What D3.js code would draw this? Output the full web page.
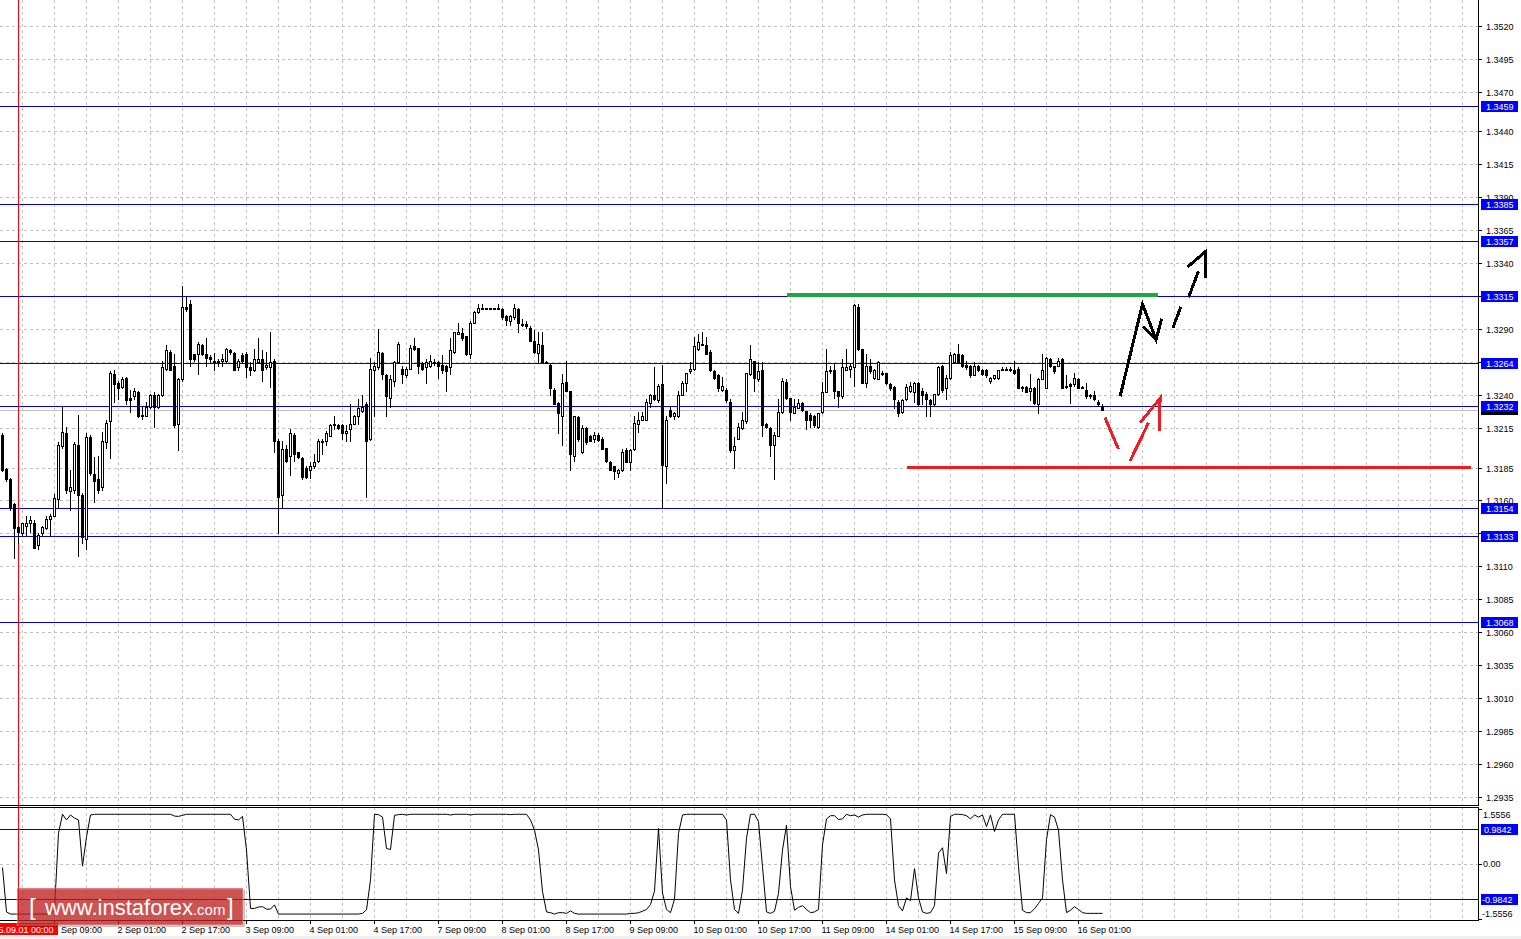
<!DOCTYPE html>
<html>
<head>
<meta charset="utf-8">
<script src="https://cdn.jsdelivr.net/npm/d3@7"></script>
<style>
html, body { margin: 0; padding: 0; background: #fff; overflow: hidden; }
svg { display: block; font-family: "Liberation Sans", Arial, sans-serif; }
</style>
</head>
<body>
<script>
// H1 candles [open, high, low, close], from 31 Aug 20:00 to 16 Sep 07:00
const ohlc = [
[1.3210,1.3211,1.3182,1.3183],[1.3184,1.3185,1.3175,1.3176],[1.3176,1.3177,1.3153,1.3155],[1.3157,1.3158,1.3116,1.3139],
[1.3140,1.3141,1.3128,1.3136],[1.3135,1.3143,1.3134,1.3143],[1.3141,1.3148,1.3134,1.3143],[1.3143,1.3148,1.3136,1.3145],
[1.3143,1.3145,1.3124,1.3124],[1.3126,1.3135,1.3123,1.3134],[1.3135,1.3141,1.3133,1.3140],[1.3139,1.3148,1.3138,1.3146],
[1.3146,1.3150,1.3133,1.3148],[1.3148,1.3165,1.3148,1.3162],[1.3161,1.3204,1.3155,1.3202],[1.3201,1.3231,1.3200,1.3212],
[1.3211,1.3216,1.3166,1.3168],[1.3167,1.3183,1.3153,1.3170],[1.3168,1.3204,1.3166,1.3203],[1.3202,1.3225,1.3118,1.3164],
[1.3164,1.3166,1.3128,1.3132],[1.3131,1.3211,1.3123,1.3208],[1.3208,1.3210,1.3179,1.3181],[1.3180,1.3193,1.3159,1.3175],
[1.3176,1.3194,1.3166,1.3168],[1.3170,1.3212,1.3168,1.3205],[1.3204,1.3221,1.3200,1.3219],[1.3220,1.3258,1.3192,1.3257],
[1.3256,1.3259,1.3235,1.3248],[1.3249,1.3251,1.3237,1.3245],[1.3246,1.3254,1.3245,1.3252],[1.3253,1.3254,1.3233,1.3236],
[1.3238,1.3244,1.3227,1.3236],[1.3239,1.3245,1.3237,1.3243],[1.3242,1.3243,1.3223,1.3224],[1.3225,1.3231,1.3222,1.3224],
[1.3224,1.3235,1.3224,1.3231],[1.3231,1.3241,1.3230,1.3240],[1.3240,1.3242,1.3216,1.3231],[1.3231,1.3241,1.3230,1.3240],
[1.3240,1.3266,1.3239,1.3261],[1.3260,1.3278,1.3259,1.3274],[1.3273,1.3274,1.3259,1.3259],[1.3262,1.3271,1.3216,1.3217],
[1.3218,1.3253,1.3198,1.3252],[1.3252,1.3323,1.3251,1.3307],[1.3307,1.3314,1.3304,1.3305],[1.3309,1.3312,1.3262,1.3267],
[1.3271,1.3271,1.3266,1.3267],[1.3271,1.3280,1.3256,1.3279],[1.3278,1.3279,1.3270,1.3271],[1.3271,1.3283,1.3262,1.3268],
[1.3269,1.3270,1.3265,1.3267],[1.3266,1.3272,1.3259,1.3265],[1.3265,1.3267,1.3262,1.3266],[1.3266,1.3271,1.3262,1.3267],
[1.3266,1.3276,1.3265,1.3275],[1.3274,1.3275,1.3271,1.3273],[1.3272,1.3273,1.3259,1.3259],[1.3261,1.3267,1.3259,1.3266],
[1.3270,1.3272,1.3264,1.3266],[1.3271,1.3273,1.3254,1.3261],[1.3261,1.3265,1.3255,1.3259],[1.3259,1.3275,1.3258,1.3267],
[1.3265,1.3283,1.3264,1.3267],[1.3267,1.3274,1.3251,1.3259],[1.3261,1.3273,1.3260,1.3263],[1.3261,1.3288,1.3246,1.3265],
[1.3266,1.3267,1.3197,1.3205],[1.3205,1.3207,1.3135,1.3163],[1.3164,1.3205,1.3154,1.3199],[1.3199,1.3202,1.3189,1.3190],
[1.3194,1.3214,1.3179,1.3211],[1.3210,1.3211,1.3190,1.3195],[1.3197,1.3197,1.3192,1.3193],[1.3192,1.3193,1.3176,1.3178],
[1.3185,1.3186,1.3177,1.3178],[1.3183,1.3189,1.3177,1.3186],[1.3186,1.3195,1.3185,1.3189],[1.3190,1.3207,1.3189,1.3205],
[1.3204,1.3207,1.3195,1.3205],[1.3205,1.3213,1.3202,1.3211],[1.3209,1.3218,1.3209,1.3217],[1.3217,1.3224,1.3214,1.3218],
[1.3217,1.3218,1.3214,1.3215],[1.3217,1.3218,1.3207,1.3211],[1.3211,1.3217,1.3205,1.3213],[1.3214,1.3233,1.3205,1.3218],
[1.3218,1.3225,1.3218,1.3224],[1.3224,1.3237,1.3218,1.3230],[1.3228,1.3240,1.3227,1.3231],[1.3233,1.3235,1.3163,1.3205],
[1.3207,1.3268,1.3206,1.3260],[1.3259,1.3265,1.3224,1.3262],[1.3261,1.3290,1.3260,1.3273],[1.3272,1.3273,1.3252,1.3256],
[1.3255,1.3256,1.3224,1.3239],[1.3238,1.3255,1.3231,1.3252],[1.3251,1.3266,1.3247,1.3265],[1.3265,1.3280,1.3264,1.3279],
[1.3260,1.3262,1.3249,1.3256],[1.3255,1.3261,1.3254,1.3260],[1.3260,1.3278,1.3260,1.3276],[1.3277,1.3283,1.3274,1.3275],
[1.3276,1.3276,1.3257,1.3262],[1.3264,1.3265,1.3259,1.3260],[1.3261,1.3267,1.3249,1.3265],[1.3262,1.3270,1.3261,1.3266],
[1.3264,1.3267,1.3263,1.3265],[1.3265,1.3266,1.3253,1.3262],[1.3263,1.3270,1.3257,1.3259],[1.3262,1.3263,1.3243,1.3258],
[1.3261,1.3283,1.3256,1.3274],[1.3273,1.3288,1.3272,1.3288],[1.3286,1.3295,1.3286,1.3288],[1.3287,1.3291,1.3282,1.3283],
[1.3285,1.3285,1.3270,1.3271],[1.3271,1.3296,1.3268,1.3295],[1.3295,1.3304,1.3295,1.3303],[1.3303,1.3309,1.3302,1.3306],
[1.3306,1.3309,1.3305,1.3305],[1.3306,1.3306,1.3305,1.3305],[1.3306,1.3306,1.3305,1.3305],[1.3306,1.3306,1.3305,1.3305],
[1.3306,1.3309,1.3305,1.3305],[1.3305,1.3306,1.3298,1.3299],[1.3300,1.3301,1.3293,1.3297],[1.3296,1.3301,1.3293,1.3300],
[1.3299,1.3309,1.3298,1.3306],[1.3305,1.3306,1.3288,1.3295],[1.3294,1.3298,1.3292,1.3293],[1.3294,1.3296,1.3291,1.3292],
[1.3291,1.3292,1.3281,1.3281],[1.3281,1.3289,1.3272,1.3273],[1.3272,1.3288,1.3265,1.3279],[1.3278,1.3288,1.3264,1.3265],
[1.3265,1.3266,1.3264,1.3264],[1.3263,1.3264,1.3240,1.3245],[1.3244,1.3245,1.3233,1.3233],[1.3234,1.3235,1.3211,1.3226],
[1.3224,1.3256,1.3202,1.3249],[1.3250,1.3266,1.3243,1.3243],[1.3243,1.3243,1.3183,1.3195],[1.3194,1.3224,1.3190,1.3224],
[1.3223,1.3224,1.3205,1.3207],[1.3197,1.3217,1.3196,1.3215],[1.3215,1.3216,1.3203,1.3204],[1.3209,1.3210,1.3205,1.3205],
[1.3207,1.3212,1.3204,1.3210],[1.3210,1.3211,1.3205,1.3206],[1.3207,1.3208,1.3199,1.3199],[1.3200,1.3200,1.3189,1.3190],
[1.3189,1.3190,1.3183,1.3183],[1.3186,1.3186,1.3176,1.3182],[1.3181,1.3184,1.3178,1.3183],[1.3183,1.3199,1.3182,1.3197],
[1.3198,1.3200,1.3189,1.3189],[1.3189,1.3199,1.3183,1.3198],[1.3199,1.3224,1.3198,1.3219],[1.3218,1.3227,1.3212,1.3221],
[1.3221,1.3227,1.3221,1.3224],[1.3221,1.3237,1.3221,1.3235],[1.3234,1.3241,1.3231,1.3240],[1.3240,1.3261,1.3236,1.3237],
[1.3236,1.3248,1.3235,1.3247],[1.3248,1.3263,1.3154,1.3187],[1.3186,1.3224,1.3173,1.3221],[1.3229,1.3232,1.3223,1.3224],
[1.3224,1.3227,1.3222,1.3226],[1.3224,1.3243,1.3223,1.3240],[1.3240,1.3251,1.3240,1.3249],[1.3249,1.3257,1.3243,1.3257],
[1.3258,1.3265,1.3257,1.3260],[1.3260,1.3284,1.3259,1.3277],[1.3275,1.3286,1.3274,1.3280],[1.3279,1.3288,1.3278,1.3278],
[1.3278,1.3284,1.3271,1.3271],[1.3273,1.3274,1.3258,1.3259],[1.3258,1.3259,1.3252,1.3253],[1.3255,1.3256,1.3243,1.3245],
[1.3244,1.3254,1.3243,1.3247],[1.3244,1.3245,1.3235,1.3236],[1.3235,1.3237,1.3197,1.3198],[1.3198,1.3208,1.3185,1.3201],
[1.3207,1.3219,1.3207,1.3216],[1.3215,1.3227,1.3214,1.3221],[1.3220,1.3257,1.3219,1.3257],[1.3256,1.3278,1.3255,1.3267],
[1.3266,1.3266,1.3243,1.3253],[1.3252,1.3265,1.3251,1.3258],[1.3259,1.3265,1.3209,1.3217],[1.3218,1.3219,1.3215,1.3216],
[1.3215,1.3216,1.3194,1.3202],[1.3202,1.3212,1.3176,1.3210],[1.3209,1.3237,1.3209,1.3227],[1.3227,1.3253,1.3226,1.3251],
[1.3250,1.3252,1.3237,1.3238],[1.3238,1.3238,1.3221,1.3227],[1.3226,1.3237,1.3226,1.3231],[1.3230,1.3237,1.3230,1.3234],
[1.3234,1.3235,1.3228,1.3229],[1.3228,1.3228,1.3214,1.3221],[1.3225,1.3226,1.3216,1.3221],[1.3224,1.3225,1.3216,1.3217],
[1.3216,1.3226,1.3215,1.3226],[1.3227,1.3250,1.3226,1.3242],[1.3242,1.3275,1.3242,1.3258],[1.3258,1.3262,1.3257,1.3259],
[1.3259,1.3264,1.3238,1.3243],[1.3243,1.3243,1.3231,1.3239],[1.3239,1.3267,1.3238,1.3261],[1.3259,1.3275,1.3259,1.3261],
[1.3260,1.3264,1.3254,1.3262],[1.3261,1.3309,1.3247,1.3308],[1.3307,1.3309,1.3274,1.3275],[1.3275,1.3275,1.3249,1.3249],
[1.3249,1.3271,1.3246,1.3262],[1.3262,1.3267,1.3257,1.3258],[1.3253,1.3260,1.3252,1.3259],[1.3252,1.3266,1.3252,1.3265],
[1.3256,1.3258,1.3255,1.3257],[1.3257,1.3257,1.3248,1.3249],[1.3248,1.3249,1.3244,1.3245],[1.3246,1.3247,1.3230,1.3237],
[1.3235,1.3236,1.3224,1.3226],[1.3227,1.3237,1.3226,1.3236],[1.3237,1.3248,1.3236,1.3246],[1.3243,1.3250,1.3242,1.3247],
[1.3242,1.3250,1.3235,1.3249],[1.3249,1.3250,1.3232,1.3233],[1.3243,1.3245,1.3233,1.3240],[1.3241,1.3242,1.3224,1.3237],
[1.3236,1.3237,1.3224,1.3233],[1.3233,1.3241,1.3232,1.3241],[1.3241,1.3262,1.3240,1.3261],[1.3262,1.3263,1.3242,1.3244],
[1.3245,1.3255,1.3237,1.3253],[1.3253,1.3273,1.3252,1.3270],[1.3265,1.3272,1.3264,1.3271],[1.3271,1.3279,1.3264,1.3264],
[1.3270,1.3271,1.3261,1.3262],[1.3263,1.3266,1.3260,1.3261],[1.3262,1.3263,1.3254,1.3255],[1.3255,1.3265,1.3255,1.3262],
[1.3262,1.3263,1.3258,1.3259],[1.3259,1.3260,1.3255,1.3256],[1.3259,1.3260,1.3254,1.3255],[1.3251,1.3254,1.3249,1.3253],
[1.3253,1.3255,1.3252,1.3255],[1.3253,1.3259,1.3252,1.3259],[1.3259,1.3261,1.3259,1.3260],[1.3259,1.3261,1.3259,1.3260],
[1.3260,1.3261,1.3258,1.3259],[1.3259,1.3266,1.3256,1.3257],[1.3260,1.3261,1.3245,1.3245],[1.3245,1.3247,1.3243,1.3246],
[1.3246,1.3247,1.3242,1.3242],[1.3243,1.3256,1.3236,1.3245],[1.3245,1.3246,1.3233,1.3234],[1.3233,1.3253,1.3226,1.3252],
[1.3252,1.3271,1.3252,1.3259],[1.3245,1.3269,1.3245,1.3268],[1.3267,1.3268,1.3261,1.3262],[1.3262,1.3262,1.3257,1.3258],
[1.3262,1.3268,1.3262,1.3266],[1.3267,1.3268,1.3245,1.3245],[1.3247,1.3255,1.3245,1.3246],[1.3248,1.3249,1.3234,1.3247],
[1.3248,1.3257,1.3247,1.3253],[1.3252,1.3253,1.3245,1.3245],[1.3246,1.3247,1.3245,1.3245],[1.3244,1.3249,1.3238,1.3239],
[1.3240,1.3241,1.3238,1.3239],[1.3240,1.3243,1.3236,1.3237],[1.3235,1.3236,1.3232,1.3233],[1.3232,1.3233,1.3229,1.3229]
];

// oscillator in the lower window, one value per candle
const osc = [
-0.10,-1.36,-1.42,-1.42,-1.42,-1.42,-1.42,-1.42,-1.42,-1.42,
-1.42,-1.42,-1.42,-1.30,0.87,1.41,1.25,1.39,1.30,1.25,
-0.06,0.77,1.39,1.41,1.41,1.41,1.41,1.41,1.41,1.41,
1.41,1.41,1.41,1.41,1.41,1.41,1.41,1.41,1.41,1.41,
1.41,1.41,1.41,1.36,1.35,1.38,1.41,1.41,1.41,1.41,
1.41,1.41,1.41,1.41,1.41,1.41,1.41,1.41,1.27,1.25,
1.35,0.40,-1.26,-1.26,-1.22,-1.21,-1.28,-1.28,-1.16,-1.42,
-1.42,-1.42,-1.42,-1.42,-1.42,-1.42,-1.42,-1.42,-1.42,-1.42,
-1.42,-1.42,-1.42,-1.42,-1.42,-1.42,-1.42,-1.42,-1.42,-1.42,
-1.40,-1.30,-0.45,1.41,1.40,1.33,0.44,0.41,1.38,1.40,
1.41,1.39,1.41,1.41,1.41,1.41,1.41,1.41,1.41,1.41,
1.41,1.41,1.39,1.41,1.41,1.41,1.41,1.39,1.41,1.41,
1.41,1.41,1.41,1.41,1.41,1.41,1.41,1.40,1.41,1.41,
1.41,1.41,1.25,0.96,0.40,-0.78,-1.36,-1.38,-1.42,-1.38,
-1.38,-1.40,-1.33,-1.40,-1.42,-1.42,-1.42,-1.42,-1.42,-1.42,
-1.42,-1.42,-1.42,-1.42,-1.42,-1.42,-1.42,-1.40,-1.40,-1.38,
-1.34,-1.29,-1.15,-0.77,1.01,-0.82,-1.29,-1.38,-1.00,0.87,
1.39,1.41,1.41,1.41,1.41,1.41,1.41,1.41,1.41,1.41,
1.41,1.25,-0.45,-1.29,-1.40,-0.74,0.73,1.41,1.41,1.20,
-0.08,-1.36,-1.40,-1.34,-0.83,0.40,1.10,-0.64,-1.31,-1.23,
-1.18,-1.29,-1.38,-1.36,-1.29,0.54,1.28,1.37,1.37,1.26,
1.28,1.41,1.37,1.39,1.33,1.39,1.41,1.41,1.41,1.41,
1.41,1.40,1.28,-0.45,-1.18,-1.33,-0.96,-1.04,-0.13,-0.96,
-1.36,-1.40,-1.38,-1.18,0.31,0.46,-0.27,1.35,1.41,1.41,
1.40,1.37,1.28,1.39,1.33,1.39,1.06,1.39,0.92,1.25,
1.41,1.41,1.41,1.41,-0.08,-1.31,-1.38,-1.38,-1.27,-1.12,
-0.96,0.69,1.40,1.33,0.96,-0.45,-1.38,-1.31,-1.21,-1.29,
-1.38,-1.40,-1.40,-1.40,-1.40,-1.40
];

const priceTicks = [1.3520,1.3495,1.3470,1.3440,1.3415,1.3390,1.3365,1.3340,1.3315,1.3290,1.3265,1.3240,
  1.3215,1.3185,1.3160,1.3135,1.3110,1.3085,1.3060,1.3035,1.3010,1.2985,1.2960,1.2935];
const levels = [1.3459, 1.3385, 1.3357, 1.3315, 1.3264, 1.3232, 1.3154, 1.3133, 1.3068];
const oscLevels = [0.9842, -0.9842];
const oscTicks = [1.5556, 0.00, -1.5556];
const timeLabels = ["1 Sep 09:00","2 Sep 01:00","2 Sep 17:00","3 Sep 09:00","4 Sep 01:00","4 Sep 17:00",
  "7 Sep 09:00","8 Sep 01:00","8 Sep 17:00","9 Sep 09:00","10 Sep 01:00","10 Sep 17:00","11 Sep 09:00",
  "14 Sep 01:00","14 Sep 17:00","15 Sep 09:00","16 Sep 01:00"];
const separatorLabel = "2015.09.01 00:00";

// hand drawn forecast, points as [bar, price]
const resistance = [[196, 1.3316], [288.8, 1.3316]];
const support = [[226, 1.3185], [367, 1.3185]];
const redPath1 = [[275.6, 1.3223], [279.0, 1.3199]];
const redPath2 = [[281.9, 1.3190], [286.5, 1.3219]];
const redHead = [[284.4, 1.3219], [289.4, 1.32375], [289.2, 1.3213]];
const blackPath = [[279.4, 1.3239], [285.0, 1.3309], [288.4, 1.3282], [289.8, 1.3298]];
const blackHeadStub = [[285.2, 1.3292], [288.4, 1.3282]];
const blackDash1 = [[292.6, 1.3291], [294.6, 1.3307]];
const blackDash2 = [[296.5, 1.3314], [299.0, 1.3334]];
const blackHead = [[296.2, 1.3337], [300.8, 1.3349], [300.8, 1.3329]];

const W = 1521, H = 939;
const plotRight = 1478, mainBottom = 805, subTop = 807, subBottom = 920;

const svg = d3.select("body").append("svg")
  .attr("width", W).attr("height", H)
  .attr("shape-rendering", "crispEdges");

const x = d3.scaleLinear().domain([0, ohlc.length - 1]).range([2.5, 2.5 + 4 * (ohlc.length - 1)]);
const y = d3.scaleLinear().domain([1.3520, 1.2935]).range([26, 797]);
const yo = d3.scaleLinear().domain([1.5556, -1.5556]).range([809.15, 918.85]);

const px = v => Math.round(v) + 0.5;

// bottom strip
svg.append("rect").attr("x", 0).attr("y", 936).attr("width", W).attr("height", 3).attr("fill", "#f0f0f0");

// grid
const grid = svg.append("g").attr("stroke", "#c0c0c0").attr("stroke-dasharray", "3,3");
priceTicks.forEach(p => {
  grid.append("line").attr("x1", 0).attr("x2", plotRight).attr("y1", px(y(p))).attr("y2", px(y(p)));
});
grid.append("line").attr("x1", 0).attr("x2", plotRight).attr("y1", px(yo(0))).attr("y2", px(yo(0)));
for (let k = 0; 5 + 8 * k <= 365; k++) {
  const gx = x(5 + 8 * k);
  grid.append("line").attr("x1", gx).attr("x2", gx).attr("y1", 0).attr("y2", mainBottom);
  grid.append("line").attr("x1", gx).attr("x2", gx).attr("y1", subTop).attr("y2", subBottom);
}

// bid line
const bid = ohlc[ohlc.length - 1][3];
svg.append("line").attr("x1", 0).attr("x2", plotRight).attr("y1", px(y(bid))).attr("y2", px(y(bid)))
  .attr("stroke", "#c0c0c0");

// level lines
svg.append("g").selectAll("line").data(levels).join("line")
  .attr("x1", 0).attr("x2", plotRight)
  .attr("y1", d => px(y(d))).attr("y2", d => px(y(d)))
  .attr("stroke", "#0000d0");
svg.append("g").selectAll("line").data(oscLevels).join("line")
  .attr("x1", 0).attr("x2", plotRight)
  .attr("y1", d => px(yo(d))).attr("y2", d => px(yo(d)))
  .attr("stroke", "#0000c0");

// period separator
svg.append("line").attr("x1", x(4)).attr("x2", x(4)).attr("y1", 0).attr("y2", subBottom).attr("stroke", "#ff0000");

// candles
const candle = svg.append("g").selectAll("g").data(ohlc).join("g");
candle.append("line")
  .attr("x1", (d, i) => x(i)).attr("x2", (d, i) => x(i))
  .attr("y1", d => Math.round(y(d[1])))
  .attr("y2", d => Math.round(y(d[2])) + 1)
  .attr("stroke", "#000");
candle.each(function (d, i) {
  const g = d3.select(this);
  const top = Math.round(y(Math.max(d[0], d[3])));
  const bot = Math.round(y(Math.min(d[0], d[3])));
  if (d[3] > d[0]) {
    g.append("rect").attr("x", x(i) - 1).attr("y", top + 0.5)
      .attr("width", 2).attr("height", Math.max(bot - top, 1))
      .attr("fill", "#fff").attr("stroke", "#000");
  } else {
    g.append("rect").attr("x", x(i) - 1.5).attr("y", top)
      .attr("width", 3).attr("height", Math.max(bot - top + 1, 1))
      .attr("fill", "#000");
  }
});

// oscillator
svg.append("path").datum(osc)
  .attr("d", d3.line().x((d, i) => x(i)).y(d => yo(d)))
  .attr("fill", "none").attr("stroke", "#000").attr("stroke-width", 1)
  .attr("shape-rendering", "auto");

// forecast drawing
const line = d3.line().x(d => x(d[0])).y(d => y(d[1]));
function stroke(pts, color, w) {
  svg.append("path").attr("d", line(pts)).attr("fill", "none")
    .attr("stroke", color).attr("stroke-width", w)
    .attr("stroke-linejoin", "miter").attr("stroke-linecap", "butt");
}
stroke(resistance, "#22a446", 4);
stroke(support, "#ee1c25", 3.5);
[redPath1, redPath2, redHead].forEach(p => stroke(p, "#ee1c25", 3));
[blackPath, blackHeadStub, blackDash1, blackDash2, blackHead].forEach(p => stroke(p, "#000", 3));

// pane borders
const border = svg.append("g").attr("stroke", "#000");
border.append("line").attr("x1", 0).attr("x2", plotRight + 1).attr("y1", mainBottom + 0.5).attr("y2", mainBottom + 0.5);
border.append("line").attr("x1", 0).attr("x2", plotRight + 1).attr("y1", subTop + 0.5).attr("y2", subTop + 0.5);
border.append("line").attr("x1", 0).attr("x2", plotRight + 1).attr("y1", subBottom + 0.5).attr("y2", subBottom + 0.5);
border.append("line").attr("x1", plotRight + 0.5).attr("x2", plotRight + 0.5).attr("y1", 0).attr("y2", mainBottom + 1);
border.append("line").attr("x1", plotRight + 0.5).attr("x2", plotRight + 0.5).attr("y1", subTop).attr("y2", subBottom + 1);

// price axis
const axis = svg.append("g").attr("font-size", 9).attr("fill", "#000");
priceTicks.forEach(p => {
  const ty = px(y(p));
  axis.append("line").attr("x1", plotRight).attr("x2", plotRight + 4).attr("y1", ty).attr("y2", ty).attr("stroke", "#000");
  axis.append("text").attr("x", 1486).attr("y", ty + 3).text(p.toFixed(4));
});
// bid marker behind the 1.3232 label
axis.append("rect").attr("x", 1481).attr("y", Math.round(y(bid)) - 6).attr("width", 37).attr("height", 11).attr("fill", "#000");
levels.forEach(p => {
  const ty = Math.round(y(p));
  axis.append("rect").attr("x", 1481).attr("y", ty - 5).attr("width", 37).attr("height", 11).attr("fill", "#0000ff");
  axis.append("text").attr("x", 1486).attr("y", ty + 4).attr("fill", "#fff").text(p.toFixed(4));
});

// oscillator axis
oscTicks.forEach(v => {
  const ty = px(yo(v));
  axis.append("line").attr("x1", plotRight).attr("x2", plotRight + 4).attr("y1", ty).attr("y2", ty).attr("stroke", "#000");
});
axis.append("text").attr("x", 1483).attr("y", yo(oscTicks[0]) + 9).text(oscTicks[0].toFixed(4));
axis.append("text").attr("x", 1483).attr("y", yo(oscTicks[1]) + 3).text(oscTicks[1].toFixed(2));
axis.append("text").attr("x", 1482).attr("y", yo(oscTicks[2]) - 2).text(oscTicks[2].toFixed(4));
oscLevels.forEach(v => {
  const ty = Math.round(yo(v));
  axis.append("rect").attr("x", 1481).attr("y", ty - 5).attr("width", 37).attr("height", 11).attr("fill", "#0000ff");
  axis.append("text").attr("x", v < 0 ? 1482 : 1484).attr("y", ty + 4).attr("fill", "#fff").text(v.toFixed(4));
});

// time axis
const tAxis = svg.append("g").attr("font-size", 9).attr("fill", "#000");
timeLabels.forEach((t, n) => {
  const tx = x(13 + 16 * n);
  tAxis.append("line").attr("x1", tx).attr("x2", tx).attr("y1", subBottom).attr("y2", subBottom + 4).attr("stroke", "#000");
  tAxis.append("text").attr("x", tx - 1).attr("y", 933).text(t);
});
tAxis.append("rect").attr("x", x(4) - 40).attr("y", 923).attr("width", 79).attr("height", 12).attr("fill", "#ff0000");
tAxis.append("text").attr("x", x(4)).attr("y", 933).attr("text-anchor", "middle").attr("fill", "#fff").text(separatorLabel);

// watermark
const wm = svg.append("g").attr("shape-rendering", "auto");
wm.append("rect").attr("x", 19).attr("y", 890).attr("width", 226).attr("height", 37).attr("fill", "rgba(60,0,0,0.25)");
wm.append("rect").attr("x", 17).attr("y", 888).attr("width", 226).attr("height", 37)
  .attr("fill", "rgba(205,35,35,0.7)").attr("stroke", "rgba(255,255,255,0.35)");
const wt = wm.append("text").attr("y", 915).attr("fill", "#fff");
wt.append("tspan").attr("x", 29).attr("font-size", 24).attr("font-weight", 300).text("[");
wt.append("tspan").attr("x", 45).attr("font-size", 22).text("www.instaforex");
wt.append("tspan").attr("font-size", 15).text(".com");
wt.append("tspan").attr("x", 227).attr("font-size", 24).text("]");
</script>
</body>
</html>
